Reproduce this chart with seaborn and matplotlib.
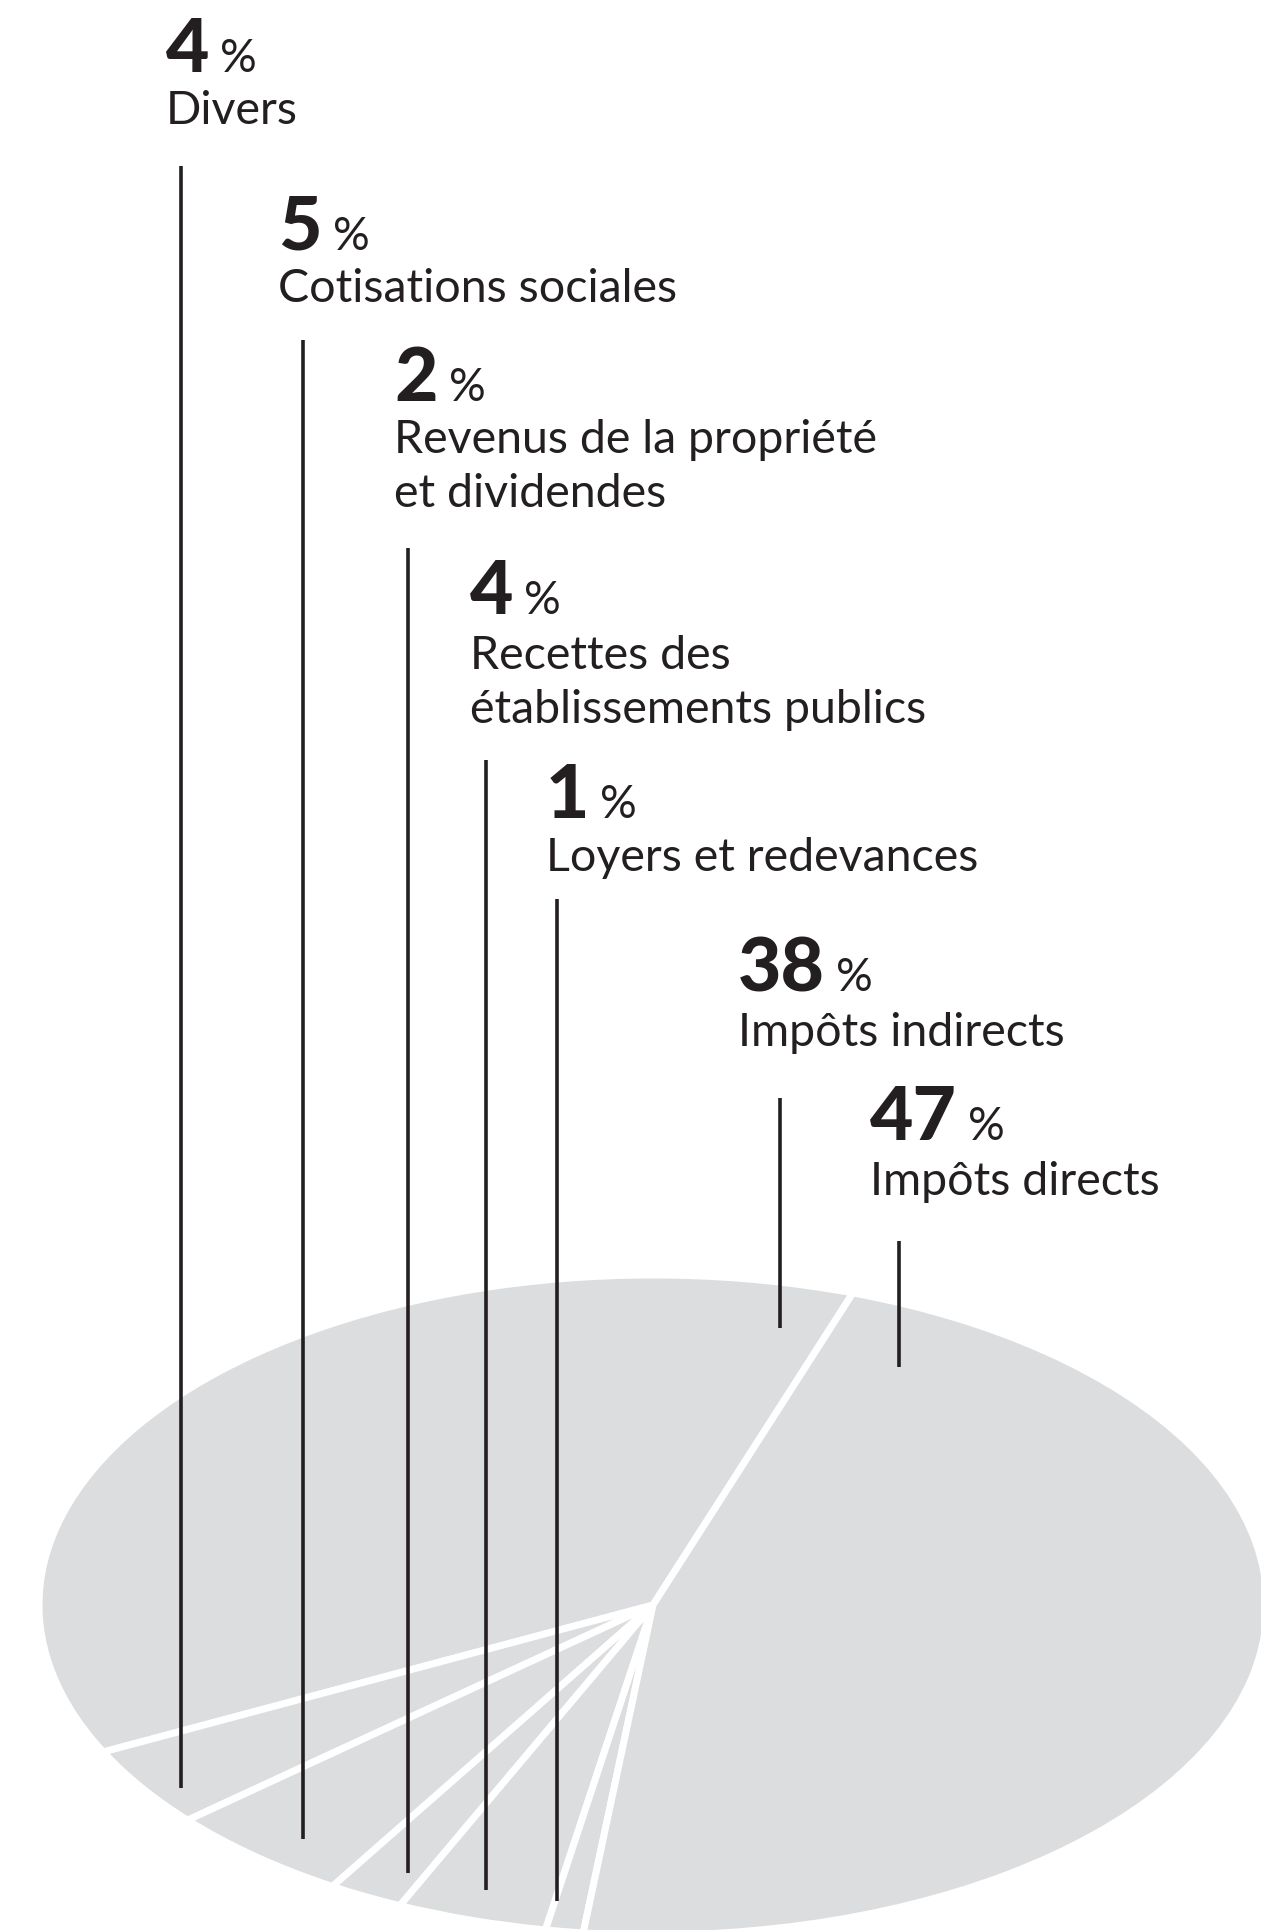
import numpy as np
import matplotlib
matplotlib.use("Agg")
import matplotlib.pyplot as plt
import seaborn as sns

sns.set_theme(style="white")
plt.rcParams["font.family"] = ["Lato", "DejaVu Sans"]

# %% données : répartition des recettes (%)
categories = ["Impôts indirects", "Divers", "Cotisations sociales",
              "Revenus de la propriété\net dividendes",
              "Recettes des\nétablissements publics",
              "Loyers et redevances", "Impôts directs"]
values = [38, 4, 5, 2, 4, 1, 47]

# ordre des étiquettes, de haut en bas
label_order = [1, 2, 3, 4, 5, 0, 6]

# mise en page (pixels, repère haut-gauche), dans l'ordre des étiquettes
num_x = [166, 278, 394, 470, 546, 738, 870]
num_base = [72, 250, 401, 614, 818, 991, 1140]
text_base = [124, 302, 453, 669, 871, 1046, 1195]
line_top = [166, 340, 548, 760, 899, 1098, 1241]
# point d'ancrage dans la part : fraction de l'angle, fraction du rayon
anchor_frac = [0.656, 0.59, 0.74, 0.48, 0.05, 0.038, 0.94]
anchor_rad = [0.948, 0.911, 0.904, 0.905, 0.912, 0.863, 0.826]

W, H = 1261, 1930
cx, cy, rx, ry = 653, 1605, 614, 330
gray = "#dcdddf"
ink = "#231f20"

fig = plt.figure(figsize=(W / 100, H / 100), dpi=100)
fig.patch.set_facecolor("white")

# camembert écrasé (perspective)
ax_pie = fig.add_axes([0, 0, 1, 1])
wedges, _ = ax_pie.pie(values, startangle=71, counterclock=True,
                       colors=[gray] * len(values), radius=1, center=(0, 0),
                       wedgeprops=dict(edgecolor="white", linewidth=5))
ax_pie.set_aspect("auto")
ax_pie.set_xlim(-cx / rx, (W - cx) / rx)
ax_pie.set_ylim((cy - H) / ry, cy / ry)
ax_pie.axis("off")

# calque texte en pixels
ax = fig.add_axes([0, 0, 1, 1], zorder=2)
ax.set_xlim(0, W)
ax.set_ylim(H, 0)
ax.axis("off")
ax.patch.set_alpha(0)

to_px = ax.transData.inverted()
fig.canvas.draw()
renderer = fig.canvas.get_renderer()

for k, i in enumerate(label_order):
    w = wedges[i]
    th = np.deg2rad(w.theta1 + anchor_frac[k] * (w.theta2 - w.theta1))
    disp = ax_pie.transData.transform((anchor_rad[k] * np.cos(th),
                                       anchor_rad[k] * np.sin(th)))
    px, py = to_px.transform(disp)
    ax.plot([px, px], [line_top[k], py], color=ink, lw=2.6,
            solid_capstyle="butt")

    t = ax.text(num_x[k], num_base[k], f"{values[i]}", fontsize=54,
                fontweight="black", color=ink, ha="left", va="baseline")
    bb = t.get_window_extent(renderer)
    x_right = to_px.transform((bb.x1, bb.y0))[0]
    ax.text(x_right + 11, num_base[k], "%", fontsize=33, color=ink,
            ha="left", va="baseline")

    for j, line in enumerate(categories[i].split("\n")):
        ax.text(num_x[k], text_base[k] + j * 54, line, fontsize=33.5,
                color=ink, ha="left", va="baseline")

fig.savefig("out.png", dpi=100, facecolor="white")
